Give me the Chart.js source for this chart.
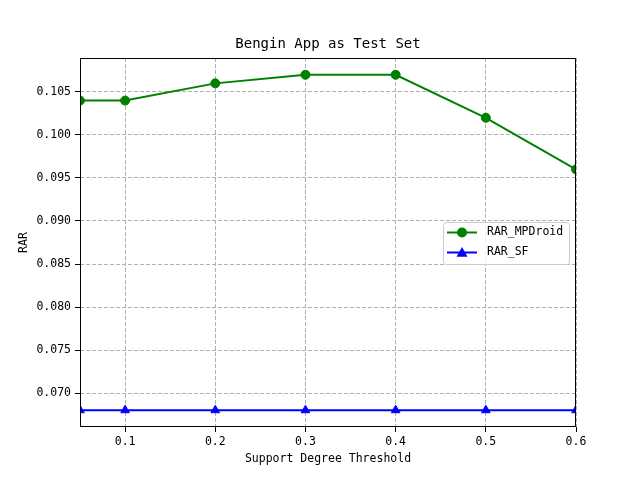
<!DOCTYPE html>
<html><head><meta charset="utf-8">
<script src="https://cdn.jsdelivr.net/npm/chart.js@4/dist/chart.umd.min.js"></script>
<style>html,body{margin:0;padding:0;background:#fff}#wrap{width:640px;height:480px}</style>
</head><body><div id="wrap"><canvas id="c" width="640" height="480"></canvas></div>
<script>
const thresholds = [0.05, 0.1, 0.2, 0.3, 0.4, 0.5, 0.6];
const rarMPDroid = [0.104, 0.104, 0.106, 0.107, 0.107, 0.102, 0.096];
const rarSF = [0.068, 0.068, 0.068, 0.068, 0.068, 0.068, 0.068];
const xTicks = [0.1, 0.2, 0.3, 0.4, 0.5, 0.6];
const xTickLabels = ["0.1", "0.2", "0.3", "0.4", "0.5", "0.6"];
const yTicks = [0.070, 0.075, 0.080, 0.085, 0.090, 0.095, 0.100, 0.105];
const yTickLabels = ["0.070", "0.075", "0.080", "0.085", "0.090", "0.095", "0.100", "0.105"];
const seriesNames = ["RAR_MPDroid", "RAR_SF"];
const chartTitle = "Bengin App as Test Set";

const FONT = "'DejaVu Sans Mono', 'Liberation Mono', monospace";

const framePlugin = {
  id: 'frame',
  afterDatasetsDraw(chart) {
    const a = chart.chartArea, ctx = chart.ctx;
    ctx.save();
    ctx.strokeStyle = '#000'; ctx.lineWidth = 1;
    ctx.strokeRect(Math.round(a.left) + 0.5, Math.round(a.top) + 0.5, Math.round(a.right - a.left) - 1, Math.round(a.bottom - a.top) - 1);
    ctx.restore();
  }
};

const titlePlugin = {
  id: 'axesTitle',
  afterDraw(chart) {
    const a = chart.chartArea, ctx = chart.ctx;
    ctx.save();
    ctx.fillStyle = '#000';
    ctx.font = "14px " + FONT;
    ctx.textAlign = 'center'; ctx.textBaseline = 'middle';
    ctx.fillText(chartTitle, (a.left + a.right) / 2, 44);
    ctx.restore();
  }
};

const legendPlugin = {
  id: 'innerLegend',
  afterDraw(chart) {
    const ctx = chart.ctx;
    const x0 = 443, y0 = 222, w = 126, h = 42;
    ctx.save();
    ctx.fillStyle = 'rgba(255,255,255,0.8)';
    ctx.strokeStyle = '#cccccc'; ctx.lineWidth = 1;
    const r = 3;
    ctx.beginPath();
    ctx.moveTo(x0 + r, y0 + 0.5);
    ctx.arcTo(x0 + w + 0.5, y0 + 0.5, x0 + w + 0.5, y0 + h + 0.5, r);
    ctx.arcTo(x0 + w + 0.5, y0 + h + 0.5, x0 + 0.5, y0 + h + 0.5, r);
    ctx.arcTo(x0 + 0.5, y0 + h + 0.5, x0 + 0.5, y0 + 0.5, r);
    ctx.arcTo(x0 + 0.5, y0 + 0.5, x0 + w + 0.5, y0 + 0.5, r);
    ctx.closePath();
    ctx.fill(); ctx.stroke();
    chart.data.datasets.forEach((ds, i) => {
      const yy = y0 + 10.5 + i * 20;
      ctx.strokeStyle = ds.borderColor; ctx.lineWidth = 2;
      ctx.beginPath(); ctx.moveTo(447, yy); ctx.lineTo(477, yy); ctx.stroke();
      ctx.fillStyle = ds.borderColor;
      ctx.beginPath();
      if (ds.pointStyle === 'triangle') {
        const s = 5.5;
        ctx.moveTo(462, yy - s); ctx.lineTo(462 + s, yy + s * 0.75); ctx.lineTo(462 - s, yy + s * 0.75); ctx.closePath();
      } else {
        ctx.arc(462, yy, 5, 0, Math.PI * 2);
      }
      ctx.fill();
      ctx.fillStyle = '#000';
      ctx.font = "11.5px " + FONT;
      ctx.textBaseline = 'middle'; ctx.textAlign = 'left';
      ctx.fillText(ds.label, 487, yy);
    });
    ctx.restore();
  }
};

new Chart(document.getElementById('c'), {
  type: 'line',
  data: {
    datasets: [
      { label: seriesNames[0], data: thresholds.map((x, i) => ({x, y: rarMPDroid[i]})),
        borderColor: '#008000', backgroundColor: '#008000', borderWidth: 2,
        pointStyle: 'circle', pointRadius: 4.5, pointBorderWidth: 1, clip: 0 },
      { label: seriesNames[1], data: thresholds.map((x, i) => ({x, y: rarSF[i]})),
        borderColor: '#0000ff', backgroundColor: '#0000ff', borderWidth: 2,
        pointStyle: 'triangle', pointRadius: 5, pointBorderWidth: 1, clip: 0 }
    ]
  },
  options: {
    responsive: false, animation: false,
    layout: { padding: { left: 0, right: 64, top: 58, bottom: 0 } },
    plugins: {
      legend: { display: false },
      tooltip: { enabled: false },
      title: { display: false }
    },
    scales: {
      x: {
        type: 'linear', min: 0.05, max: 0.6,
        afterBuildTicks(s) { s.ticks = xTicks.map(v => ({ value: v })); },
        afterFit(s) { s.height = 53; },
        ticks: { color: '#000', font: { family: FONT, size: 11.5 }, padding: 3,
          maxRotation: 0, autoSkip: false,
          callback: (v) => { const i = xTicks.findIndex(t => Math.abs(t - v) < 1e-9); return i >= 0 ? xTickLabels[i] : ''; } },
        grid: { color: '#b0b0b0', tickColor: '#000', tickLength: 5, tickBorderDash: [], lineWidth: 1 },
        border: { display: false, dash: [4, 2] },
        title: { display: true, text: 'Support Degree Threshold', color: '#000',
          font: { family: FONT, size: 11.5 }, padding: { top: 0, bottom: 14 } }
      },
      y: {
        type: 'linear', min: 0.06605, max: 0.10895,
        afterBuildTicks(s) { s.ticks = yTicks.map(v => ({ value: v })); },
        afterFit(s) { s.width = 80; },
        ticks: { color: '#000', font: { family: FONT, size: 11.5 }, padding: 4, autoSkip: false,
          callback: (v) => { const i = yTicks.findIndex(t => Math.abs(t - v) < 1e-9); return i >= 0 ? yTickLabels[i] : ''; } },
        grid: { color: '#b0b0b0', tickColor: '#000', tickLength: 5, tickBorderDash: [], lineWidth: 1 },
        border: { display: false, dash: [4, 2] },
        title: { display: true, text: 'RAR', color: '#000',
          font: { family: FONT, size: 11.5 }, padding: { top: 17, bottom: 0 } }
      }
    }
  },
  plugins: [framePlugin, titlePlugin, legendPlugin]
});
</script></body></html>
